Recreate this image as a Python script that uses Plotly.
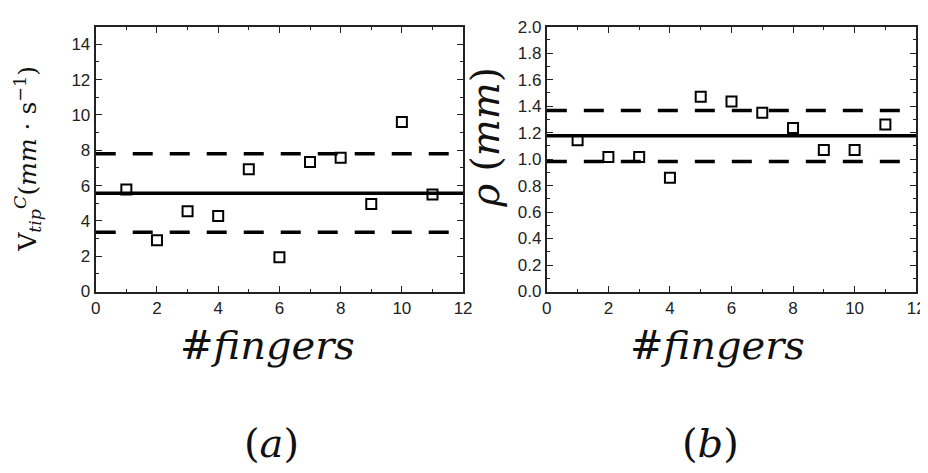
import plotly.graph_objects as go

fingers = [1, 2, 3, 4, 5, 6, 7, 8, 9, 10, 11]
v_tip = [5.78, 2.9, 4.55, 4.28, 6.92, 1.94, 7.34, 7.57, 4.95, 9.6, 5.49]
rho = [1.142, 1.016, 1.016, 0.858, 1.471, 1.435, 1.35, 1.234, 1.069, 1.069, 1.26]

v_mean = 5.57
v_upper = 7.8
v_lower = 3.35
rho_mean = 1.176
rho_upper = 1.367
rho_lower = 0.982

x_span = [0, 12]

fig = go.Figure()

def add_panel(xa, ya, yvals, mean, up, lo):
    fig.add_trace(go.Scatter(x=x_span, y=[mean, mean], mode="lines",
                             line=dict(color="black", width=3.5),
                             xaxis=xa, yaxis=ya, showlegend=False, hoverinfo="skip"))
    for v in (up, lo):
        fig.add_trace(go.Scatter(x=x_span, y=[v, v], mode="lines",
                                 line=dict(color="black", width=3.5, dash="20px,17px"),
                                 xaxis=xa, yaxis=ya, showlegend=False, hoverinfo="skip"))
    fig.add_trace(go.Scatter(x=fingers, y=yvals, mode="markers",
                             marker=dict(symbol="square-open", size=10, color="black",
                                         line=dict(width=2, color="black")),
                             xaxis=xa, yaxis=ya, showlegend=False))

add_panel("x", "y", v_tip, v_mean, v_upper, v_lower)
add_panel("x2", "y2", rho, rho_mean, rho_upper, rho_lower)

tickfont = dict(family="Liberation Sans", size=17, color="#222")
common = dict(showgrid=False, zeroline=False, showline=True, linecolor="#222", linewidth=2,
              mirror="allticks", ticks="inside", ticklen=6, tickwidth=1.2, tickcolor="#222",
              tickfont=tickfont)

ydom = [1 - 286 / 473, 1 - 10 / 473]
fig.update_layout(
    width=928, height=473,
    margin=dict(l=0, r=0, t=0, b=0),
    paper_bgcolor="white", plot_bgcolor="white",
    font=dict(family="Liberation Sans", size=17, color="#222"),
    xaxis=dict(domain=[84 / 928, 457 / 928], range=[0, 12], dtick=2,
               minor=dict(dtick=1, ticks="inside", ticklen=3, tickcolor="#222"), anchor="y", **common),
    yaxis=dict(domain=ydom, range=[0, 15], dtick=2,
               minor=dict(dtick=1, ticks="inside", ticklen=3, tickcolor="#222"), anchor="x", **common),
    xaxis2=dict(domain=[542 / 928, 917 / 928], range=[0, 12], dtick=2,
                minor=dict(dtick=1, ticks="inside", ticklen=3, tickcolor="#222"), anchor="y2", **common),
    yaxis2=dict(domain=ydom, range=[0, 2.0], dtick=0.2, tickformat=".1f",
                minor=dict(dtick=0.1, ticks="inside", ticklen=3, tickcolor="#222"), anchor="x2", **common),
)

serif = "DejaVu Serif"
ann = []
for xf, xl, lab in [(258, 262, "a"), (715, 708, "b")]:
    ann.append(dict(x=xf / 928, y=1 - 342 / 473, xref="paper", yref="paper",
                    text="<i>#fingers</i>", showarrow=False,
                    font=dict(family=serif, size=40, color="#111"), xanchor="center", yanchor="middle"))
    ann.append(dict(x=xl / 928, y=1 - 444 / 473, xref="paper", yref="paper",
                    text="(<i>" + lab + "</i>)", showarrow=False,
                    font=dict(family=serif, size=40, color="#111"), xanchor="center", yanchor="middle"))
ann.append(dict(x=15 / 928, y=1 - 148 / 473, xref="paper", yref="paper",
                text="V<sub><i>tip</i></sub><sup><i>C</i></sup>(<i>mm</i> · s<sup>−1</sup>)",
                textangle=-90, showarrow=False,
                font=dict(family=serif, size=25, color="#111"), xanchor="center", yanchor="middle"))
ann.append(dict(x=480 / 928, y=1 - 125 / 473, xref="paper", yref="paper",
                text="<i>ρ</i> (<i>mm</i>)",
                textangle=-90, showarrow=False,
                font=dict(family=serif, size=39, color="#111"), xanchor="center", yanchor="middle"))
fig.update_layout(annotations=ann)

fig.write_html("out.html")
